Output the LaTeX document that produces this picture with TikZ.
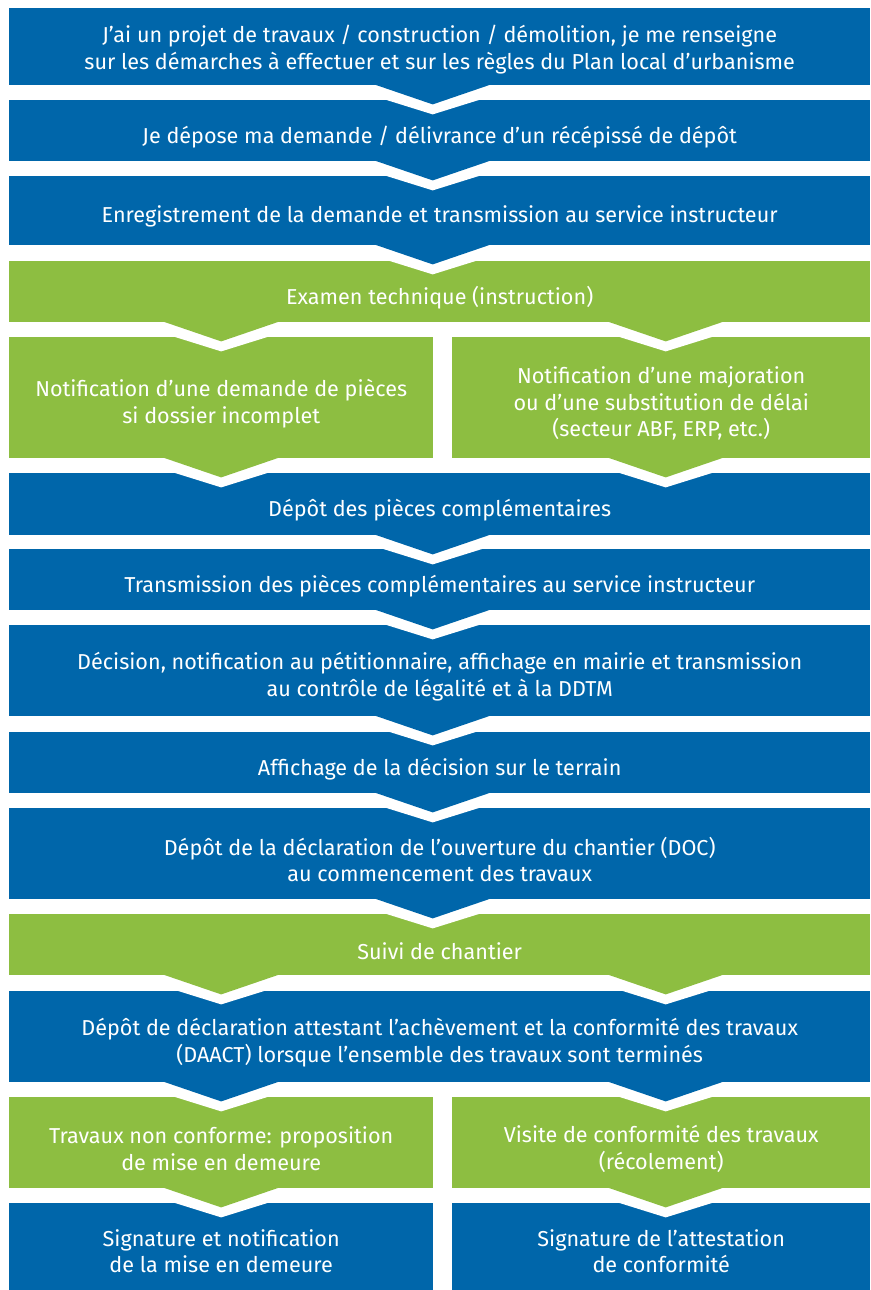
\documentclass[tikz,border=0pt]{standalone}
\usepackage{fontspec}
\setmainfont{Fira Sans}
\usetikzlibrary{calc}
\definecolor{cblue}{RGB}{0,102,170}
\definecolor{cgreen}{RGB}{141,190,65}
\tikzset{
  box/.style={anchor=north west, inner sep=0pt},
  bluebox/.style={box, fill=cblue},
  greenbox/.style={box, fill=cgreen},
  txt/.style={inner sep=0pt, text=white, align=center, yshift=-6pt,
    font=\fontsize{21.6}{26.5}\selectfont},
}
\newcommand{\chev}[2]{%
  \fill[white] ($#1+(-92,0.3)$) -- ($#1+(0,29)$) -- ($#1+(92,0.3)$) -- cycle;
  \fill[#2] ($#1+(-57,-0.5)$) -- ($#1+(0,19)$) -- ($#1+(57,-0.5)$) -- cycle;}
\begin{document}
\begin{tikzpicture}[x=1pt,y=-1pt]
\useasboundingbox (0,0) rectangle (870,1290);
% full width 9..870, left column 9..433, right column 452..870
\node[bluebox, minimum width=861pt, minimum height=77pt,
  label={[txt, yshift=3pt]center:{J’ai un projet de travaux / construction / démolition, je me renseigne\\sur les démarches à effectuer et sur les règles du Plan local d’urbanisme}}] (b1) at (9,8) {};
\node[bluebox, minimum width=861pt, minimum height=61pt,
  label={[txt]center:{Je dépose ma demande / délivrance d’un récépissé de dépôt}}] (b2) at (9,100) {};
\node[bluebox, minimum width=861pt, minimum height=69pt,
  label={[txt]center:{Enregistrement de la demande et transmission au service instructeur}}] (b3) at (9,176) {};
\node[greenbox, minimum width=861pt, minimum height=61pt,
  label={[txt]center:{Examen technique (instruction)}}] (b4) at (9,261) {};
\node[greenbox, minimum width=424pt, minimum height=121pt,
  label={[txt]center:{Notification d’une demande de pièces\\si dossier incomplet}}] (b5L) at (9,337) {};
\node[greenbox, minimum width=418pt, minimum height=121pt,
  label={[txt]center:{Notification d’une majoration\\ou d’une substitution de délai\\(secteur ABF, ERP, etc.)}}] (b5R) at (452,337) {};
\node[bluebox, minimum width=861pt, minimum height=62pt,
  label={[txt]center:{Dépôt des pièces complémentaires}}] (b6) at (9,473) {};
\node[bluebox, minimum width=861pt, minimum height=61pt,
  label={[txt]center:{Transmission des pièces complémentaires au service instructeur}}] (b7) at (9,549) {};
\node[bluebox, minimum width=861pt, minimum height=91pt,
  label={[txt]center:{Décision, notification au pétitionnaire, affichage en mairie et transmission\\au contrôle de légalité et à la DDTM}}] (b8) at (9,625) {};
\node[bluebox, minimum width=861pt, minimum height=61pt,
  label={[txt]center:{Affichage de la décision sur le terrain}}] (b9) at (9,732) {};
\node[bluebox, minimum width=861pt, minimum height=91pt,
  label={[txt]center:{Dépôt de la déclaration de l’ouverture du chantier (DOC)\\au commencement des travaux}}] (b10) at (9,808) {};
\node[greenbox, minimum width=861pt, minimum height=61pt,
  label={[txt]center:{Suivi de chantier}}] (b11) at (9,914) {};
\node[bluebox, minimum width=861pt, minimum height=91pt,
  label={[txt]center:{Dépôt de déclaration attestant l’achèvement et la conformité des travaux\\(DAACT) lorsque l’ensemble des travaux sont terminés}}] (b12) at (9,991) {};
\node[greenbox, minimum width=424pt, minimum height=91pt,
  label={[txt]center:{Travaux non conforme: proposition\\de mise en demeure}}] (b13L) at (9,1097) {};
\node[greenbox, minimum width=418pt, minimum height=91pt,
  label={[txt]center:{Visite de conformité des travaux\\(récolement)}}] (b13R) at (452,1097) {};
\node[bluebox, minimum width=424pt, minimum height=88pt,
  label={[txt, yshift=2pt]center:{Signature et notification\\de la mise en demeure}}] (b14L) at (9,1203) {};
\node[bluebox, minimum width=418pt, minimum height=88pt,
  label={[txt, yshift=2pt]center:{Signature de l’attestation\\de conformité}}] (b14R) at (452,1203) {};
% chevron connectors
\path ($(b1.south)+(-7,0)$) coordinate (c1)
      ($(b2.south)+(-7,0)$) coordinate (c2)
      ($(b3.south)+(-7,0)$) coordinate (c3)
      ($(b4.south -| b5L.south)$) coordinate (c4L)
      ($(b4.south -| b5R.south)+(4.5,0)$) coordinate (c4R)
      ($(b5L.south)$) coordinate (c5L)
      ($(b5R.south)+(4.5,0)$) coordinate (c5R)
      ($(b6.south)+(-7,0)$) coordinate (c6)
      ($(b7.south)+(-7,0)$) coordinate (c7)
      ($(b8.south)+(-7,0)$) coordinate (c8)
      ($(b9.south)+(-7,0)$) coordinate (c9)
      ($(b10.south)+(-7,0)$) coordinate (c10)
      ($(b11.south -| b13L.south)$) coordinate (c11L)
      ($(b11.south -| b13R.south)+(4.5,0)$) coordinate (c11R)
      ($(b12.south -| b13L.south)$) coordinate (c12L)
      ($(b12.south -| b13R.south)+(4.5,0)$) coordinate (c12R)
      ($(b13L.south)$) coordinate (c13L)
      ($(b13R.south)+(4.5,0)$) coordinate (c13R);
\chev{(c1)}{cblue}
\chev{(c2)}{cblue}
\chev{(c3)}{cblue}
\chev{(c4L)}{cgreen}
\chev{(c4R)}{cgreen}
\chev{(c5L)}{cgreen}
\chev{(c5R)}{cgreen}
\chev{(c6)}{cblue}
\chev{(c7)}{cblue}
\chev{(c8)}{cblue}
\chev{(c9)}{cblue}
\chev{(c10)}{cblue}
\chev{(c11L)}{cgreen}
\chev{(c11R)}{cgreen}
\chev{(c12L)}{cblue}
\chev{(c12R)}{cblue}
\chev{(c13L)}{cgreen}
\chev{(c13R)}{cgreen}
\end{tikzpicture}
\end{document}
